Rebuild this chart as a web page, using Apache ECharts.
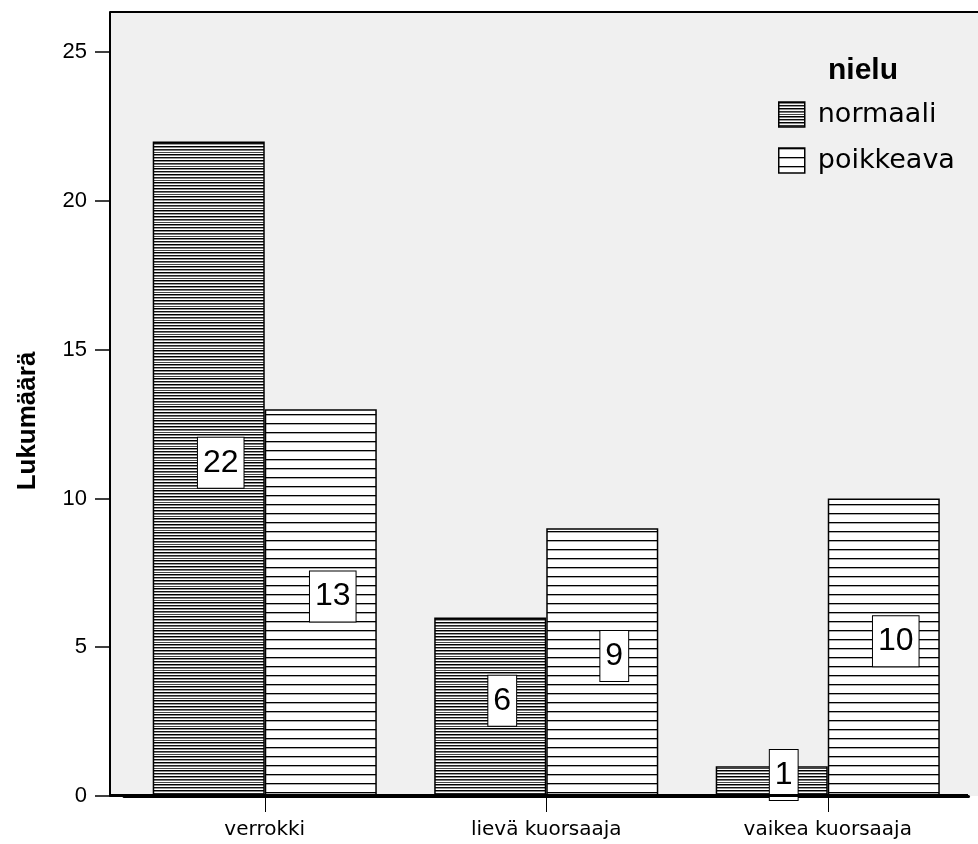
<!DOCTYPE html>
<html><head><meta charset="utf-8">
<script src="https://cdn.jsdelivr.net/npm/echarts@6/dist/echarts.min.js"></script>
<style>html,body{margin:0;padding:0;background:#fff}#c{width:978px;height:844px}</style>
</head><body><div id="c"></div>
<script>
const categories = ['verrokki', 'lievä kuorsaaja', 'vaikea kuorsaaja'];
const seriesNames = ['normaali', 'poikkeava'];
const normaali = [22, 6, 1];
const poikkeava = [13, 9, 10];
const yTicks = [0, 5, 10, 15, 20, 25];
const legendTitle = 'nielu';
const yAxisTitle = 'Lukumäärä';

function makePattern(h, rows) {
  const c = document.createElement('canvas');
  c.width = 8; c.height = h;
  const g = c.getContext('2d');
  g.fillStyle = '#ffffff'; g.fillRect(0, 0, 8, h);
  rows.forEach(r => { g.fillStyle = r[1]; g.fillRect(0, r[0], 8, 1); });
  return c;
}
const densePat = makePattern(14, [[0,'#000'],[1,'#888'],[3,'#111'],[4,'#999'],[6,'#000'],[7,'#888'],[9,'#222'],[10,'#777'],[12,'#444']]);
const sparsePat = makePattern(9, [[0,'#000'],[1,'#aaa']]);

const font = 'Liberation Sans, Arial, sans-serif';
const wideFont = 'DejaVu Sans, sans-serif';
const labelStyle = {
  show: true, position: 'inside', offset: [12, -6],
  color: '#000', fontFamily: font, fontSize: 32,
  backgroundColor: '#fff', borderColor: '#000', borderWidth: 1,
  padding: [7, 5, 7, 5], lineHeight: 36
};

const chart = echarts.init(document.getElementById('c'), null, {renderer: 'canvas'});
chart.setOption({
  animation: false,
  backgroundColor: '#fff',
  grid: {left: 124, right: 9.5, top: 12, bottom: 48, containLabel: false},
  graphic: [
    {type: 'rect', z: -10, shape: {x: 110, y: 12, width: 868, height: 784}, style: {fill: '#f0f0f0'}},
    {type: 'line', z: 10, shape: {x1: 110, y1: 12, x2: 978, y2: 12}, style: {stroke: '#000', lineWidth: 2}},
    {type: 'line', z: 10, shape: {x1: 110, y1: 795.5, x2: 968, y2: 795.5}, style: {stroke: '#000', lineWidth: 3}},
    {type: 'text', z: 10, x: 828, y: 71, style: {text: legendTitle, font: 'bold 30px ' + font, fill: '#000', verticalAlign: 'middle'}},
    {type: 'text', z: 10, x: 28, y: 421, rotation: Math.PI / 2,
     style: {text: yAxisTitle, font: 'bold 26px ' + font, fill: '#000', align: 'center', verticalAlign: 'middle'}}
  ],
  legend: {
    orient: 'vertical', left: 773, top: 96, itemWidth: 26, itemHeight: 25, itemGap: 19,
    textStyle: {fontFamily: wideFont, fontSize: 27, color: '#000', padding: [0, 0, 0, 8]},
    data: seriesNames.map(n => ({name: n, icon: 'rect', itemStyle: {borderColor: '#000', borderWidth: 1.5}}))
  },
  xAxis: {
    type: 'category', data: categories,
    axisLine: {show: true, lineStyle: {color: '#000', width: 3}},
    axisTick: {show: true, alignWithLabel: true, length: 16, lineStyle: {color: '#000', width: 1}},
    axisLabel: {fontFamily: wideFont, fontSize: 20, color: '#000', margin: 24}
  },
  yAxis: {
    type: 'value', min: 0, max: 26.35, offset: 14,
    axisLine: {show: true, lineStyle: {color: '#000', width: 2}},
    axisTick: {show: true, length: 15, customValues: yTicks, lineStyle: {color: '#000', width: 1.5}},
    axisLabel: {fontFamily: font, fontSize: 22, color: '#000', margin: 23, customValues: yTicks},
    splitLine: {show: false}
  },
  series: [
    {name: seriesNames[0], type: 'bar', data: normaali, barGap: '0%', barCategoryGap: '20.4%',
     itemStyle: {color: {image: densePat, repeat: 'repeat'}, borderColor: '#000', borderWidth: 1.5},
     label: labelStyle},
    {name: seriesNames[1], type: 'bar', data: poikkeava, barGap: '0%', barCategoryGap: '20.4%',
     itemStyle: {color: {image: sparsePat, repeat: 'repeat'}, borderColor: '#000', borderWidth: 1.5},
     label: labelStyle}
  ]
});
</script></body></html>
